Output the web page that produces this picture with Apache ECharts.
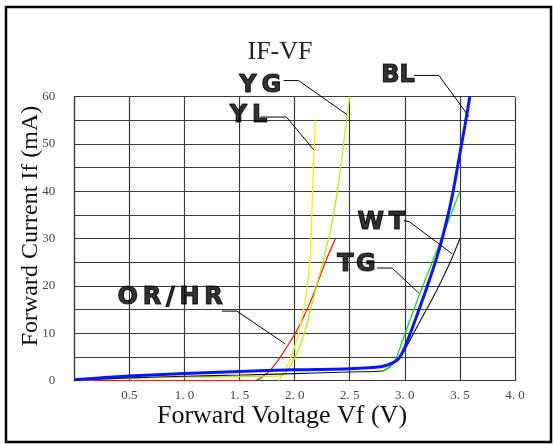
<!DOCTYPE html>
<html><head><meta charset="utf-8">
<script src="https://cdn.jsdelivr.net/npm/echarts@6/dist/echarts.min.js"></script>
<style>html,body{margin:0;padding:0;background:#fff}#c{width:553px;height:444px}</style>
</head><body><div id="c"></div>
<script>
// ---- data (Vf in V, If in mA) ----
const OR_HR = [[0,0],[1.6,0],[1.658,0.15],[1.749,1.56],[1.84,4.0],[1.931,7.2],[2.006,10],[2.082,13.5],[2.158,17.5],[2.23,22],[2.3,26.3],[2.37,30]];
const YL = [[1.855,0],[1.93,3],[1.99,6.5],[2.036,10],[2.067,13.5],[2.097,17],[2.122,21.5],[2.143,27],[2.158,37],[2.173,47],[2.188,55]];
const YG = [[0,0.1],[0.5,0.5],[1.0,0.75],[1.5,0.9],[1.87,1.0],[1.93,2.0],[2.0,4.8],[2.05,7.5],[2.1,11],[2.16,16.5],[2.21,21],[2.265,26],[2.325,31.8],[2.385,39.6],[2.445,50.2],[2.5,60]];
const WT = [[0,0.1],[0.5,0.6],[1.0,0.95],[1.5,1.2],[2.0,1.5],[2.5,1.85],[2.8,2.05],[2.9,3.7],[3.0,6.6],[3.08,10],[3.16,13.5],[3.25,17.3],[3.33,21],[3.42,25.5],[3.5,30]];
const TG = [[2.8,2.05],[2.87,3],[2.92,4.8],[2.96,7.2],[3.0,9.8],[3.06,13.6],[3.12,17.4],[3.2,22.2],[3.3,28],[3.4,34],[3.5,40]];
const BL = [[0,0.2],[0.25,0.6],[0.5,1.0],[1.0,1.5],[1.5,1.95],[2.0,2.3],[2.5,2.55],[2.78,2.95],[2.885,3.7],[2.945,4.7],[2.99,6.5],[3.05,10],[3.1,13.2],[3.15,16.4],[3.2,19.7],[3.29,26],[3.355,31.5],[3.43,39],[3.5,48],[3.55,54.5],[3.59,60]];

// callout labels and leader lines (data coordinates)
const labelNames = ['Y\u2009G','Y\u2009L','BL','W\u2009T','T\u200aG','O\u2009R\u2009/\u2009H\u2009R'];
const labelPos = [[1.688,62.3],[1.582,55.9],[2.938,64.5],[2.786,33.4],[2.561,24.4],[0.87,17.6]];
const leaders = [
  [[1.90,63.4],[2.036,63.4],[2.476,56.2]],
  [[1.688,55.7],[1.925,55.7],[2.173,48.8]],
  [[3.082,64.5],[3.309,64.5],[3.582,55.8]],
  [[2.99,33.8],[3.04,33.6],[3.43,26.8]],
  [[2.749,23.8],[2.885,23.8],[3.127,18.5]],
  [[1.34,14.7],[1.476,14.7],[1.915,7.76]]
];
const xTickLabels = {0.5:'0.5',1:'1. 0',1.5:'1. 5',2:'2. 0',2.5:'2. 5',3:'3. 0',3.5:'3. 5',4:'4. 0'};

const chart = echarts.init(document.getElementById('c'));
const gridColor = '#3a3a3a';
const serif = 'Liberation Serif';
function curve(name, data, color, width) {
  return {name, type:'line', data, showSymbol:false, symbol:'none', smooth:0.25,
    lineStyle:{color, width}, itemStyle:{color}, z:3, silent:true};
}
chart.setOption({
  animation:false,
  backgroundColor:'#fff',
  grid:{left:74.3, right:38, top:96.7, bottom:63.3},
  xAxis:{type:'value', min:0, max:4, interval:0.5,
    axisLine:{show:true, onZero:false, lineStyle:{color:gridColor, width:1.2}},
    axisTick:{show:false},
    splitLine:{show:true, lineStyle:{color:gridColor, width:1.2}},
    axisLabel:{margin:8, fontFamily:serif, fontSize:13, color:'#444',
      formatter:v=> xTickLabels[v] || ''}},
  yAxis:{type:'value', min:0, max:60, interval:5,
    axisLine:{show:true, lineStyle:{color:gridColor, width:1.2}},
    axisTick:{show:false},
    splitLine:{show:true, lineStyle:{color:gridColor, width:1.2}},
    axisLabel:{margin:19, fontFamily:serif, fontSize:13, color:'#444',
      formatter:v=> (v%10===0 ? String(v) : '')}},
  graphic:[
    {type:'rect', shape:{x:6,y:7,width:545,height:435}, style:{fill:'none', stroke:'#000', lineWidth:2.5}, z:0},
    {type:'text', x:280, y:52, style:{text:'IF-VF', font:'26px "Liberation Serif"', fill:'#222', textAlign:'center', textVerticalAlign:'middle'}},
    {type:'text', x:282, y:416, style:{text:'Forward Voltage Vf (V)', font:'26px "Liberation Serif"', fill:'#111', textAlign:'center', textVerticalAlign:'middle'}},
    {type:'text', x:31, y:226, rotation:Math.PI/2, style:{text:'Forward Current If (mA)', font:'24px "Liberation Serif"', fill:'#111', textAlign:'center', textVerticalAlign:'middle'}}
  ],
  series:[
    curve('OR/HR', OR_HR, '#ff1010', 1.2),
    curve('YL', YL, '#f2f200', 1.3),
    curve('YG', YG, '#bfef00', 1.3),
    curve('WT', WT, '#111111', 1.1),
    curve('TG', TG, '#10dd10', 1.3),
    curve('BL', BL, '#0a14ff', 3),
    {type:'lines', coordinateSystem:'cartesian2d', polyline:true, clip:false, silent:true, z:5,
      symbol:['none','arrow'], symbolSize:6,
      lineStyle:{color:'#000', width:1, opacity:1},
      data: leaders.map(c=>({coords:c}))},
    {type:'scatter', clip:false, silent:true, z:6, symbolSize:1,
      itemStyle:{color:'rgba(0,0,0,0)'},
      label:{show:true, position:'inside', formatter:'{b}', fontFamily:'DejaVu Sans', fontWeight:'bold', fontSize:24, color:'#000',
        textBorderColor:'#000', textBorderWidth:1.2},
      data: labelPos.map((p,i)=>({name:labelNames[i], value:p}))}
  ]
});
</script></body></html>
